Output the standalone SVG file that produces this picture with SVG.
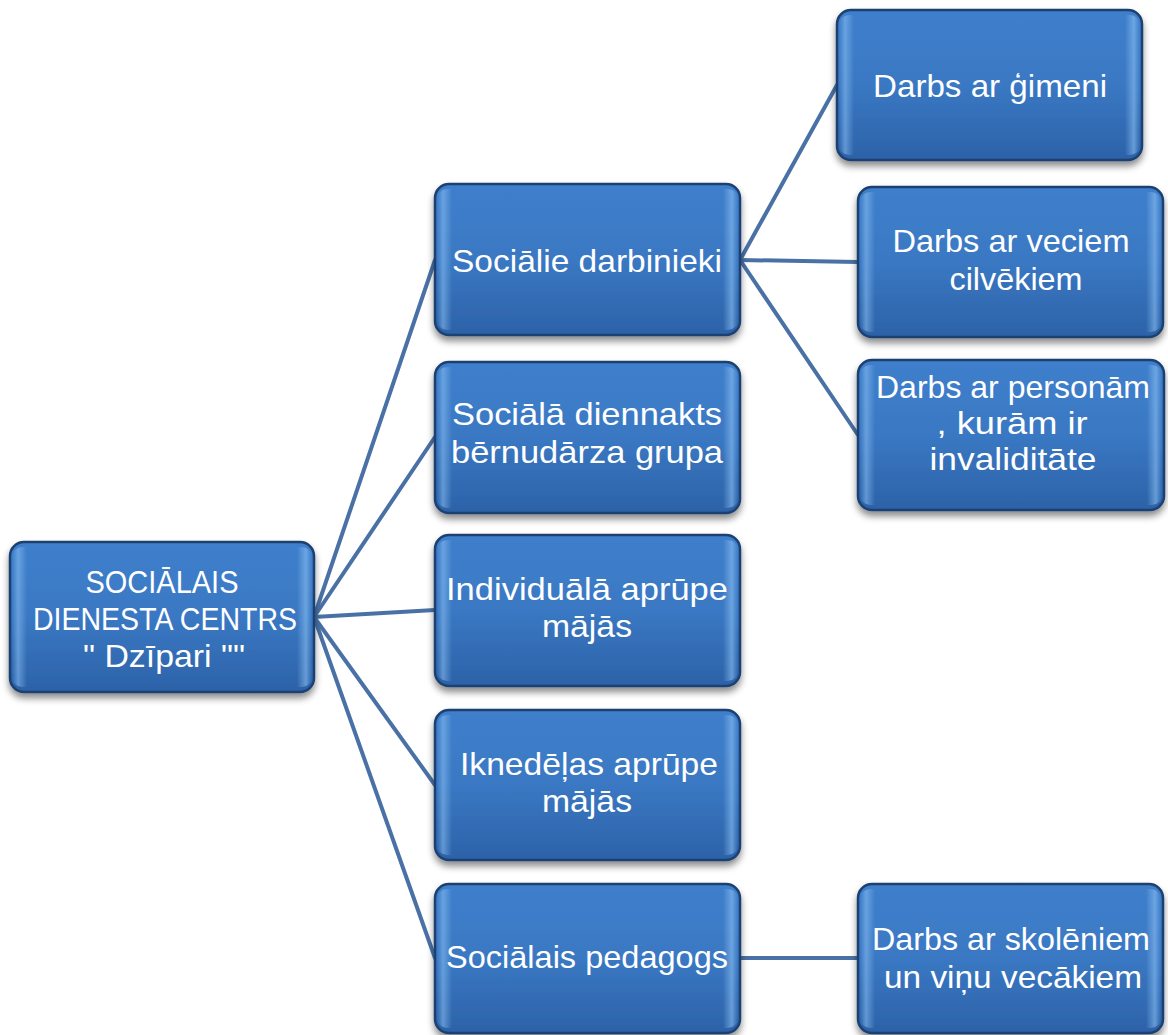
<svg xmlns="http://www.w3.org/2000/svg" width="1168" height="1035" viewBox="0 0 1168 1035">
<defs>
<linearGradient id="fillV" x1="0" y1="0" x2="0" y2="1">
<stop offset="0" stop-color="#3f7fcc"/>
<stop offset="0.5" stop-color="#3a78c3"/>
<stop offset="1" stop-color="#2c62a8"/>
</linearGradient>
<linearGradient id="bevelH" x1="0" y1="0" x2="1" y2="0">
<stop offset="0" stop-color="#7fb6ee" stop-opacity="0.0"/>
<stop offset="0.02" stop-color="#8cc0f2" stop-opacity="0.55"/>
<stop offset="0.05" stop-color="#8cc0f2" stop-opacity="0"/>
<stop offset="0.95" stop-color="#8cc0f2" stop-opacity="0"/>
<stop offset="0.98" stop-color="#8cc0f2" stop-opacity="0.6"/>
<stop offset="1" stop-color="#7fb6ee" stop-opacity="0.0"/>
</linearGradient>
<filter id="shadow" x="-10%" y="-10%" width="120%" height="130%">
<feDropShadow dx="0" dy="5" stdDeviation="3.5" flood-color="#000" flood-opacity="0.45"/>
</filter>
</defs>
<style>
.box{fill:url(#fillV);stroke:#1d416f;stroke-width:2.5;filter:url(#shadow)}
.bev{fill:url(#bevelH);stroke:none}
.t{font-family:"Liberation Sans","Open Sans",sans-serif;font-size:32px;fill:#ffffff;text-anchor:middle}
.c{stroke:#4a71a5;stroke-width:4;fill:none;stroke-linecap:round}
</style>
<rect width="1168" height="1035" fill="#ffffff"/>
<g id="connectors">
<line class="c" x1="314" y1="617" x2="435" y2="260"/>
<line class="c" x1="314" y1="617" x2="435" y2="437"/>
<line class="c" x1="314" y1="617" x2="435" y2="610"/>
<line class="c" x1="314" y1="617" x2="435" y2="785"/>
<line class="c" x1="314" y1="617" x2="435" y2="958"/>
<line class="c" x1="740" y1="260" x2="837" y2="85"/>
<line class="c" x1="740" y1="260" x2="858" y2="262"/>
<line class="c" x1="740" y1="260" x2="858" y2="435"/>
<line class="c" x1="740" y1="958" x2="858" y2="958"/>
</g>
<g id="root">
<rect class="box" x="10" y="542" width="304" height="150" rx="14"/>
<rect class="bev" x="12" y="547" width="300" height="140" rx="10"/>
<text class="t" x="162" y="593" textLength="153" lengthAdjust="spacingAndGlyphs">SOCIĀLAIS</text>
<text class="t" x="165" y="630" textLength="264" lengthAdjust="spacingAndGlyphs">DIENESTA CENTRS</text>
<text class="t" x="164" y="667" textLength="162" lengthAdjust="spacingAndGlyphs">" Dzīpari ""</text>
</g>
<g id="n-socialie-darbinieki">
<rect class="box" x="435" y="184" width="305" height="151" rx="14"/>
<rect class="bev" x="437" y="189" width="301" height="141" rx="10"/>
<text class="t" x="587" y="272" textLength="270" lengthAdjust="spacingAndGlyphs">Sociālie darbinieki</text>
</g>
<g id="n-diennakts">
<rect class="box" x="435" y="362" width="305" height="151" rx="14"/>
<rect class="bev" x="437" y="367" width="301" height="141" rx="10"/>
<text class="t" x="587" y="425" textLength="270" lengthAdjust="spacingAndGlyphs">Sociālā diennakts</text>
<text class="t" x="587" y="463" textLength="272" lengthAdjust="spacingAndGlyphs">bērnudārza grupa</text>
</g>
<g id="n-individuala">
<rect class="box" x="435" y="535" width="305" height="151" rx="14"/>
<rect class="bev" x="437" y="540" width="301" height="141" rx="10"/>
<text class="t" x="587" y="600" textLength="282" lengthAdjust="spacingAndGlyphs">Individuālā aprūpe</text>
<text class="t" x="587" y="637" textLength="90" lengthAdjust="spacingAndGlyphs">mājās</text>
</g>
<g id="n-iknedelas">
<rect class="box" x="435" y="710" width="305" height="150" rx="14"/>
<rect class="bev" x="437" y="715" width="301" height="140" rx="10"/>
<text class="t" x="589" y="775" textLength="258" lengthAdjust="spacingAndGlyphs">Iknedēļas aprūpe</text>
<text class="t" x="587" y="812" textLength="90" lengthAdjust="spacingAndGlyphs">mājās</text>
</g>
<g id="n-pedagogs">
<rect class="box" x="435" y="884" width="305" height="149" rx="14"/>
<rect class="bev" x="437" y="889" width="301" height="139" rx="10"/>
<text class="t" x="587" y="968" textLength="282" lengthAdjust="spacingAndGlyphs">Sociālais pedagogs</text>
</g>
<g id="n-gimeni">
<rect class="box" x="837" y="10" width="305" height="150" rx="14"/>
<rect class="bev" x="839" y="15" width="301" height="140" rx="10"/>
<text class="t" x="990" y="97" textLength="234" lengthAdjust="spacingAndGlyphs">Darbs ar ģimeni</text>
</g>
<g id="n-veciem">
<rect class="box" x="858" y="187" width="305" height="150" rx="14"/>
<rect class="bev" x="860" y="192" width="301" height="140" rx="10"/>
<text class="t" x="1011" y="252" textLength="237" lengthAdjust="spacingAndGlyphs">Darbs ar veciem</text>
<text class="t" x="1016" y="290" textLength="133" lengthAdjust="spacingAndGlyphs">cilvēkiem</text>
</g>
<g id="n-personam">
<rect class="box" x="858" y="360" width="306" height="150" rx="14"/>
<rect class="bev" x="860" y="365" width="302" height="140" rx="10"/>
<text class="t" x="1013" y="398" textLength="274" lengthAdjust="spacingAndGlyphs">Darbs ar personām</text>
<text class="t" x="1012" y="434" textLength="151" lengthAdjust="spacingAndGlyphs">, kurām ir</text>
<text class="t" x="1013" y="470" textLength="167" lengthAdjust="spacingAndGlyphs">invaliditāte</text>
</g>
<g id="n-skoleniem">
<rect class="box" x="858" y="884" width="305" height="149" rx="14"/>
<rect class="bev" x="860" y="889" width="301" height="139" rx="10"/>
<text class="t" x="1011" y="950" textLength="278" lengthAdjust="spacingAndGlyphs">Darbs ar skolēniem</text>
<text class="t" x="1013" y="988" textLength="258" lengthAdjust="spacingAndGlyphs">un viņu vecākiem</text>
</g>
</svg>
